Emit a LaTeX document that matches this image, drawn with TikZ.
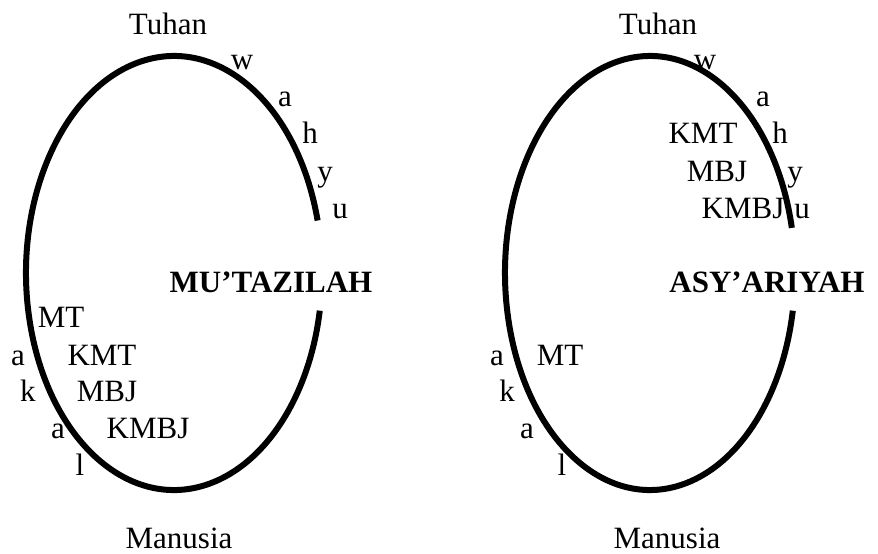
\documentclass[tikz,border=0pt]{standalone}
\usepackage{fontspec}
\setmainfont{Liberation Serif}
\usepackage{tikz}

\tikzset{
  garis/.style={line width=3pt,black},
  huruf/.style={anchor=base,inner sep=0pt,font=\fontsize{15.5}{18}\selectfont},
  judul/.style={huruf,font=\fontsize{15.5}{18}\selectfont\bfseries}
}

\begin{document}
\begin{tikzpicture}[x=0.5pt,y=0.5pt]
			\useasboundingbox (0,0) rectangle (878,553);
			% pusat kedua elips
			\coordinate (pusatM) at (174,280);
			\coordinate (pusatA) at (650,280);
			\draw [garis] (pusatM) ++(14:148 and 217) arc [start angle=14, end angle=350, x radius=148, y radius=217];
			\draw [garis] (pusatA) ++(12:145 and 217) arc [start angle=12, end angle=350, x radius=145, y radius=217];
			% Mu'tazilah
			\node [huruf] (tuhanM) at (168,518) {Tuhan};
			\node [huruf] (wM) at (242,483) {w};
			\node [huruf] (aM) at (285,446) {a};
			\node [huruf] (hM) at (310,410) {h};
			\node [huruf] (yM) at (325,372) {y};
			\node [huruf] (uM) at (340,335) {u};
			\node [judul] (mutazilah) at (271,261) {MU’TAZILAH};
			\node [huruf] (mtM) at (61,226) {MT};
			\node [huruf] (a1M) at (18,188) {a};
			\node [huruf] (kmtM) at (102,188) {KMT};
			\node [huruf] (kM) at (28,152) {k};
			\node [huruf] (mbjM) at (107,152) {MBJ};
			\node [huruf] (a2M) at (58,115) {a};
			\node [huruf] (kmbjM) at (148,115) {KMBJ};
			\node [huruf] (lM) at (80,78) {l};
			\node [huruf] (manusiaM) at (179,5) {Manusia};
			% Asy'ariyah
			\node [huruf] (tuhanA) at (658,518) {Tuhan};
			\node [huruf] (wA) at (705,483) {w};
			\node [huruf] (aA) at (763,446) {a};
			\node [huruf] (kmtA) at (703,410) {KMT};
			\node [huruf] (hA) at (780,410) {h};
			\node [huruf] (mbjA) at (717,372) {MBJ};
			\node [huruf] (yA) at (795,372) {y};
			\node [huruf] (kmbjA) at (743,335) {KMBJ};
			\node [huruf] (uA) at (802,335) {u};
			\node [judul] (asyariyah) at (767,261) {ASY’ARIYAH};
			\node [huruf] (a1A) at (497,188) {a};
			\node [huruf] (mtA) at (560,188) {MT};
			\node [huruf] (kA) at (507,152) {k};
			\node [huruf] (a2A) at (527,115) {a};
			\node [huruf] (lA) at (562,78) {l};
			\node [huruf] (manusiaA) at (667,5) {Manusia};
		\end{tikzpicture}
\end{document}
